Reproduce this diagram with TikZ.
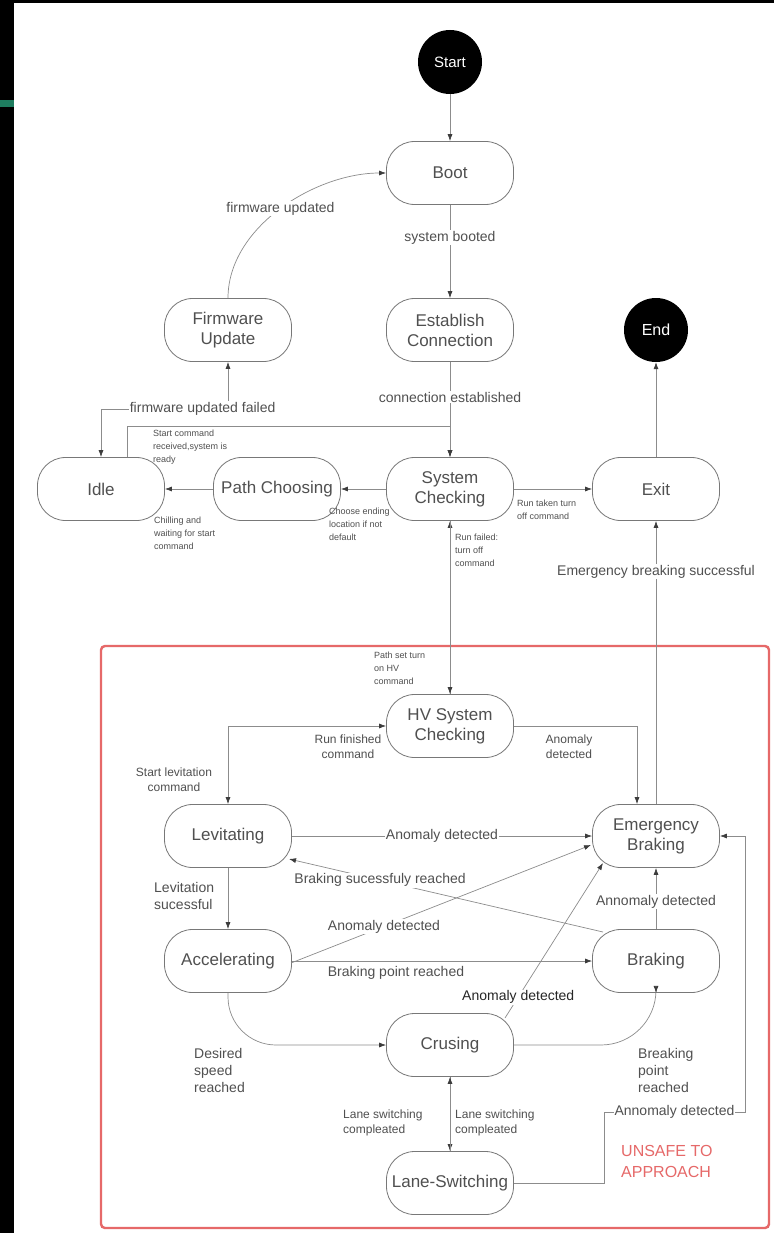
\documentclass[tikz,border=0pt]{standalone}
\usepackage{fontspec}
\setmainfont{Liberation Sans}
\usetikzlibrary{arrows.meta,calc}
\definecolor{linegray}{RGB}{140,140,140}
\definecolor{boxgray}{RGB}{120,120,120}
\definecolor{txtgray}{RGB}{80,80,80}
\definecolor{tipgray}{RGB}{60,60,60}
\definecolor{unsafe}{RGB}{230,105,105}
\definecolor{stripe}{RGB}{30,125,95}
\begin{document}
\begin{tikzpicture}[x=1pt,y=-1pt,
 state/.style={draw=boxgray,line width=0.8pt,rounded corners=28pt,minimum width=127pt,minimum height=63pt,inner sep=1pt,align=center,text=txtgray,font=\fontsize{17}{20}\selectfont,fill=white},
 term/.style={circle,fill=black,minimum size=64pt,inner sep=0pt,text=white,font=\fontsize{15}{18}\selectfont},
 edge/.style={draw=linegray,line width=0.7pt,-{Latex[length=7pt,width=5pt,color=tipgray]}},
 bi/.style={draw=linegray,line width=0.7pt,{Latex[length=7pt,width=5pt,color=tipgray]}-{Latex[length=7pt,width=5pt,color=tipgray]}},
 lbl/.style={text=txtgray,font=\fontsize{14}{17}\selectfont,inner sep=1pt},
 onl/.style={lbl,fill=white},
 mid/.style={text=txtgray,font=\fontsize{12}{15}\selectfont,align=center,inner sep=0pt},
 small/.style={text=txtgray,font=\fontsize{9}{13}\selectfont,align=left,inner sep=0pt,anchor=north west},
]
\useasboundingbox (0,0) rectangle (774,1233);
\fill[white] (0,0) rectangle (774,1233);
\fill[black] (0,0) rectangle (14,1233);
\fill[black] (0,0) rectangle (774,3);
\fill[stripe] (0,100) rectangle (14,107);

% unsafe zone
\draw[unsafe,line width=2.4pt,rounded corners=4pt] (101,646) rectangle (769,1228);
\node[text=unsafe,font=\fontsize{16}{21}\selectfont,align=left,anchor=north west,inner sep=0pt] (unsafelbl) at (621,1145) {UNSAFE TO\\APPROACH};

% states
\node[term] (start) at (450,62) {Start};
\node[state] (boot) at (450,173) {Boot};
\node[state] (est) at (450,330) {Establish\\Connection};
\node[state] (fw) at (228,330) {Firmware\\Update};
\node[term,font=\fontsize{16}{18}\selectfont] (end) at (656,330) {End};
\node[state] (idle) at (101,489) {Idle};
\node[state] (path) at (277,489) {Path Choosing};
\node[state] (sc) at (450,489) {System\\Checking};
\node[state] (exit) at (656,489) {Exit};
\node[state] (hv) at (450,726) {HV System\\Checking};
\node[state] (lev) at (228,836) {Levitating};
\node[state] (eb) at (656,836) {Emergency\\Braking};
\node[state] (acc) at (228,961) {Accelerating};
\node[state] (brk) at (656,961) {Braking};
\node[state] (cru) at (450,1045) {Crusing};
\node[state] (lane) at (450,1183) {Lane-Switching};

% top part
\draw[edge] (start) -- (boot);
\draw[edge] (boot) -- node[onl,pos=0.35]{system booted} (est);
\draw[edge] (fw.north) to[out=90,in=180,looseness=0.9] node[onl,pos=0.5]{firmware updated} (boot.west);
\draw[edge] (est) -- node[onl,pos=0.37]{connection established} (sc);
\coordinate (fwbend) at (101,409);
\draw[bi] (fw.south) |- node[onl,pos=0.6]{firmware updated failed} (fwbend) -- (idle.north);
\coordinate (scbend) at (450,426);
\draw[edge] ($(idle.north)+(26,0)$) |- (scbend) -- (sc.north);
\node[small] (lstart) at (153,430) {Start command\\received,system is\\ready};
\draw[edge] (sc) -- (path);
\node[small] (lchoose) at (329,508) {Choose ending\\location if not\\default};
\draw[edge] (path) -- (idle);
\node[small] (lchill) at (154,517) {Chilling and\\waiting for start\\command};
\draw[edge] (sc) -- (exit);
\node[small] (ltaken) at (517,500) {Run taken turn\\off command};
\draw[edge] (hv) -- (sc);
\draw[edge] (sc) -- (hv);
\node[small] (lfailed) at (455,534) {Run failed:\\turn off\\command};
\node[small] (lpath) at (374,652) {Path set turn\\on HV\\command};
\draw[edge] (eb) -- node[onl,pos=0.82]{Emergency breaking successful} (exit);
\draw[edge] (exit) -- (end);

% unsafe part
\draw[bi] (hv.west) -| (lev.north);
\node[mid] (lrunfin) at (348,747) {Run finished\\command};
\node[mid] (lstartlev) at (174,780) {Start levitation\\command};
\draw[edge] (hv.east) -| ($(eb.north)+(-19,0)$);
\node[mid] (lhvan) at (569,747) {Anomaly\\detected};
\draw[edge] (lev) -- node[onl]{Anomaly detected} (eb);
\draw[edge] ($(brk.center)+(-53,-29)$) -- node[onl,pos=0.71]{Braking sucessfuly reached} ($(lev.center)+(61,23)$);
\draw[edge] ($(acc.center)+(63,2)$) -- node[onl,pos=0.31]{Anomaly detected} ($(eb.center)+(-65,9)$);
\draw[edge] (lev) -- (acc);
\node[lbl,align=left,anchor=north west] (llevok) at (153,881) {Levitation\\sucessful};
\draw[edge] (acc) -- (brk);
\node[lbl] (lbpr) at (396,973) {Braking point reached};
\draw[edge] ($(cru.center)+(55,-27)$) -- node[onl,pos=0.135,text=black!85]{Anomaly detected} ($(eb.center)+(-53,27)$);
\draw[edge] (brk) -- node[onl,pos=0.45]{Annomaly detected} (eb);
\draw[edge,rounded corners=48pt] (acc.south) |- (cru.west);
\node[lbl,align=left,anchor=north west] (ldesired) at (193,1047) {Desired\\speed\\reached};
\draw[edge,rounded corners=55pt] (cru.east) -| (brk.south);
\node[lbl,align=left,anchor=north west] (lbreaking) at (637,1047) {Breaking\\point\\reached};
\draw[edge] (cru) -- (lane);
\draw[edge] (lane) -- (cru);
\node[mid,align=left,anchor=north west] (llsl) at (343,1110) {Lane switching\\compleated};
\node[mid,align=left,anchor=north west] (llsr) at (455,1110) {Lane switching\\compleated};
\coordinate (lb1) at (604,1183);
\coordinate (lb2) at (745,1112);
\draw[edge] (lane.east) -- (lb1) |- node[onl,pos=0.75]{Annomaly detected} (lb2) |- (eb.east);
\end{tikzpicture}
\end{document}
